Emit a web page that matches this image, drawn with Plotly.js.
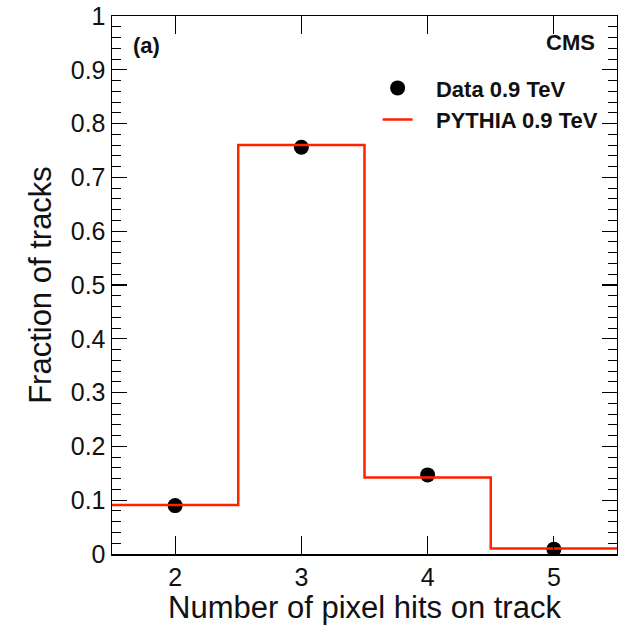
<!DOCTYPE html>
<html><head><meta charset="utf-8">
<script src="https://cdn.plot.ly/plotly-3.0.1.min.js"></script>
<style>html,body{margin:0;padding:0;background:#fff}</style>
</head><body><div id="chart" style="width:618px;height:628px"></div>
<script>
const hits = [2, 3, 4, 5];
const dataFrac = [0.090, 0.756, 0.147, 0.009];
const pythiaFrac = [0.091, 0.760, 0.142, 0.010];
const tickVals = [2, 3, 4, 5];

// histogram bin edges derived from the hit categories
const edges = hits.map(h => h - 0.5).concat([hits[hits.length - 1] + 0.5]);
const stepY = pythiaFrac.concat([pythiaFrac[pythiaFrac.length - 1]]);

const font = "Liberation Sans, Arial, Helvetica, sans-serif";
const pad = '\u00a0\u00a0\u00a0';

const traces = [
  {x: hits, y: dataFrac, type: 'scatter', mode: 'markers', name: pad + '<b>Data 0.9 TeV</b>',
   marker: {color: '#000', size: 15, symbol: 'circle'}, legendgroup: 'a'},
  {x: edges, y: stepY, type: 'scatter', mode: 'lines', name: pad + '<b>PYTHIA 0.9 TeV</b>',
   line: {color: '#ff2200', width: 2.5, shape: 'hv'}, legendgroup: 'b'}
];

const axBase = {
  showline: true, linecolor: '#000', linewidth: 1.5, mirror: 'ticks',
  ticks: 'inside', tickcolor: '#000', tickwidth: 1.2, showgrid: false, zeroline: false,
  tickfont: {family: font, size: 25, color: '#111'}
};

const layout = {
  width: 618, height: 628,
  margin: {l: 112, r: 1, t: 16, b: 74},
  paper_bgcolor: '#fff', plot_bgcolor: '#fff',
  showlegend: true,
  legend: {x: 0.526, y: 0.905, xanchor: 'left', yanchor: 'top', bgcolor: 'rgba(0,0,0,0)',
           font: {family: font, size: 22, color: '#111'}, traceorder: 'grouped', tracegroupgap: 0},
  xaxis: Object.assign({}, axBase, {
    range: [1.5, 5.5], tickvals: tickVals, ticklen: 18,
    title: {text: 'Number of pixel hits on track', font: {family: font, size: 31, color: '#111'}, standoff: 5}
  }),
  yaxis: Object.assign({}, axBase, {
    range: [0, 1], dtick: 0.1, ticklen: 15,
    minor: {dtick: 0.02, ticklen: 9, ticks: 'inside', tickcolor: '#000', tickwidth: 1},
    title: {text: 'Fraction of tracks', font: {family: font, size: 31, color: '#111'}, standoff: 10}
  }),
  annotations: [
    {xref: 'paper', yref: 'paper', x: 0.037, y: 0.946, xanchor: 'left', yanchor: 'middle',
     text: '<b>(a)</b>', showarrow: false, font: {family: font, size: 22, color: '#111'}},
    {xref: 'paper', yref: 'paper', x: 0.96, y: 0.95, xanchor: 'right', yanchor: 'middle',
     text: '<b>CMS</b>', showarrow: false, font: {family: font, size: 22, color: '#111'}}
  ]
};

Plotly.newPlot('chart', traces, layout, {displayModeBar: false, staticPlot: true});
</script></body></html>
